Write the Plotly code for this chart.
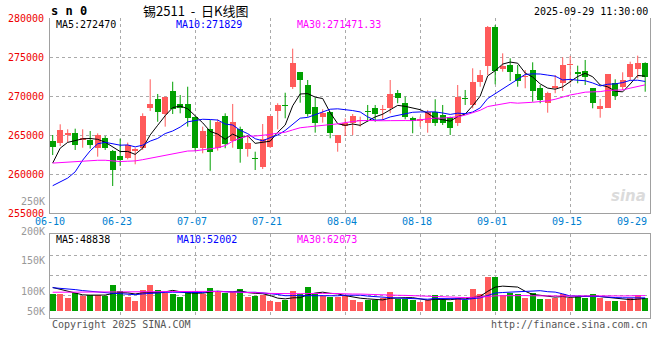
import pandas as pd
import plotly.graph_objects as go

# ---------------- data ----------------
dates = [d.strftime("%m-%d") for d in pd.bdate_range("2025-06-10", "2025-09-29")]
tick_labels = ["06-10", "06-23", "07-07", "07-21", "08-04", "08-18", "09-01", "09-15", "09-29"]

opens = [264190, 264020, 265040, 265300, 264360, 264360, 263330, 264570, 262950, 262350,
         262050, 262900, 263330, 268420, 269620, 267730, 270640, 268980, 268980, 267310,
         263370, 265770, 263300, 267440, 264270, 265810, 263170, 262090, 260940, 263500,
         268120, 268760, 271190, 273080, 271410, 268550, 267350, 267990, 263940, 266150,
         266580, 266800, 268000, 268420, 268200, 268420, 270420, 269070, 267140, 266830,
         266500, 267990, 267570, 267270, 266500, 269710, 268850, 271830, 273890, 278890,
         273420, 273980, 272820, 272400, 273330, 270990, 269070, 270990, 271630, 273950,
         273120, 273210, 270990, 268300, 268500, 271710, 271190, 272480, 273420, 274190]
highs = [265000, 266370, 265730, 265810, 265730, 265510, 265210, 264870, 263080, 264530,
         264020, 263370, 267780, 272140, 270260, 269910, 271830, 270130, 271190, 267400,
         266070, 266920, 267000, 267780, 268980, 266070, 265000, 262860, 266410, 267440,
         269070, 270420, 276070, 273080, 272050, 269780, 268300, 267990, 265000, 267140,
         267690, 267350, 268850, 268850, 268850, 272050, 270770, 269910, 267350, 267350,
         268210, 269580, 268850, 267350, 271410, 270770, 273550, 273330, 278970, 279100,
         275470, 274830, 273980, 273330, 274320, 271410, 270550, 272690, 274960, 275130,
         273890, 274620, 270990, 269620, 272820, 272140, 273040, 274400, 275170, 274320]
lows = [262430, 263590, 264100, 263080, 263370, 263250, 262220, 263080, 258460, 261020,
        261880, 261240, 263080, 268080, 266700, 266070, 267690, 267780, 266070, 262950,
        262660, 260420, 263000, 263300, 263370, 261450, 262220, 260510, 260640, 263330,
        265730, 267140, 270900, 269140, 267350, 265300, 266580, 264580, 262860, 264870,
        265000, 266070, 266700, 266700, 266920, 267780, 269070, 267010, 265220, 266070,
        265300, 266150, 266280, 265000, 266150, 268850, 268420, 271190, 272690, 271500,
        273120, 271920, 271190, 270990, 269270, 269070, 267860, 270350, 270640, 271630,
        271630, 271410, 268420, 267220, 268500, 269490, 270770, 272050, 272270, 270550]
closes = [263460, 265600, 265210, 263720, 264570, 263670, 265040, 263370, 260510, 261790,
          263760, 263160, 267390, 268930, 267990, 269910, 268330, 268420, 267180, 263370,
          265510, 262820, 266700, 263850, 266700, 263170, 264010, 261920, 264490, 267440,
          268850, 268680, 274270, 272050, 267690, 266580, 267780, 265220, 265000, 266580,
          267470, 266920, 267950, 267690, 268300, 270260, 269780, 267350, 266830, 267010,
          267990, 266500, 266500, 265860, 269910, 269660, 271830, 272690, 278810, 273240,
          273890, 273120, 271960, 272500, 270680, 269490, 270420, 271280, 273980, 274020,
          272780, 272480, 269070, 268720, 272820, 270000, 272050, 274100, 274190, 272400]
volumes = [67150, 67150, 52670, 72420, 59250, 61890, 61890, 59250, 102700, 79000,
           55300, 39500, 82950, 102700, 82950, 69790, 68470, 56620, 79000, 79000,
           68470, 90850, 73740, 71100, 75050, 86900, 56620, 59250, 63200, 39500,
           35550, 42130, 79000, 67150, 94800, 71100, 59250, 56620, 56620, 60570,
           43450, 35550, 43450, 43450, 52670, 75050, 46080, 46080, 43450, 35550,
           43450, 63200, 43450, 36870, 52670, 43450, 88220, 68470, 135620, 135620,
           63200, 72420, 65830, 52670, 71100, 48720, 48720, 52670, 65830, 52670,
           59250, 52670, 67150, 52670, 39500, 39500, 39500, 52670, 63200, 52670]
# sessions before 06-10 (not drawn; estimated from where the MA lines start)
prior_closes = [263500, 262800, 263900, 262400, 261800, 262600, 263300, 264100, 263200, 262500,
                261900, 262700, 263400, 262900, 262200, 263100, 263600, 262300, 262600, 262200,
                260300, 260740, 255720, 249570, 251670, 256040, 261500, 262700, 263300]
prior_volumes = [58000, 64000, 61000, 55000, 67000, 62000, 59000, 66000, 60000, 63000,
                 57000, 68000, 61000, 64000, 59000, 62000, 65000, 60000, 69000, 120000,
                 85000, 95000, 88000, 97000, 90000, 102000, 96000, 104000, 96000]

price_ticks = [255000, 260000, 265000, 270000, 275000, 280000]
vol_tick_labels = ["200K", "150K", "100K", "50K"]
ma_periods = [5, 10, 30]
ma_colors = ["#000000", "#0000ff", "#ff00ff"]
price_ma_text = ["MA5:272470", "MA10:271829", "MA30:271471.33"]
vol_ma_text = ["MA5:48838", "MA10:52002", "MA30:62073"]

# ---------------- figure ----------------
RED = "#ff5a5a"
GREEN = "#00a000"
FONT = "DejaVu Sans Mono"
n = len(closes)
x = list(range(n))
up = [c >= o for o, c in zip(opens, closes)]

fig = go.Figure()

for flag, col in ((True, RED), (False, GREEN)):
    wx, wy = [], []
    for i in x:
        if up[i] == flag:
            wx += [i, i, None]
            wy += [lows[i], highs[i], None]
    fig.add_trace(go.Scatter(x=wx, y=wy, mode="lines", line=dict(color=col, width=1),
                             hoverinfo="skip", showlegend=False, xaxis="x", yaxis="y"))
for flag, col in ((True, RED), (False, GREEN)):
    idx = [i for i in x if up[i] == flag]
    fig.add_trace(go.Bar(x=idx,
                         base=[min(opens[i], closes[i]) for i in idx],
                         y=[max(abs(closes[i] - opens[i]), 140) for i in idx],
                         width=0.8, marker=dict(color=col, line=dict(width=0)),
                         showlegend=False, xaxis="x", yaxis="y"))

cser = pd.Series(prior_closes + closes, dtype=float)
for p, col in zip(ma_periods, ma_colors):
    ma = cser.rolling(p).mean().iloc[-n:].tolist()
    fig.add_trace(go.Scatter(x=x, y=ma, mode="lines", line=dict(color=col, width=1),
                             showlegend=False, xaxis="x", yaxis="y"))

fig.add_trace(go.Bar(x=x, y=volumes, width=0.8,
                     marker=dict(color=[RED if u else GREEN for u in up], line=dict(width=0)),
                     showlegend=False, xaxis="x2", yaxis="y2"))
vser = pd.Series(prior_volumes + volumes, dtype=float)
for p, col in zip(ma_periods, ma_colors):
    ma = vser.rolling(p).mean().iloc[-n:].tolist()
    fig.add_trace(go.Scatter(x=x, y=ma, mode="lines", line=dict(color=col, width=1),
                             showlegend=False, xaxis="x2", yaxis="y2"))

# ---------------- layout ----------------
L, R, T, B = 50, 10, 18, 42
W, H = 660, 360
PW, PH = W - L - R, H - T - B


def px(xp):
    return (xp - L) / PW


def py(yp):
    return (H - B - yp) / PH


tick_idx = [dates.index(t) for t in tick_labels]
grid_x = tick_idx[1:-1]
xr = [-0.36, n - 0.36]

grid = dict(gridcolor="#aaaaaa", griddash="dot", gridwidth=1)
border = dict(showline=True, linecolor="#a0a0a0", linewidth=1)

fig.update_layout(
    width=W, height=H, margin=dict(l=L, r=R, t=T, b=B, autoexpand=False),
    paper_bgcolor="white", plot_bgcolor="white", barmode="overlay", bargap=0,
    showlegend=False, hovermode=False,
    xaxis=dict(domain=[0, 1], anchor="y", range=xr, tickvals=grid_x, showticklabels=False,
               ticks="", showgrid=True, zeroline=False, mirror=False, automargin=False,
               **grid, **border),
    yaxis=dict(domain=[py(213), 1], range=[255000, 280000], tickvals=price_ticks,
               ticktext=[str(v) for v in price_ticks], ticks="", ticklabelstandoff=3,
               tickfont=dict(family=FONT, size=10, color="#ee0000"), automargin=False,
               showgrid=True, zeroline=False, mirror=True, **grid, **border),
    xaxis2=dict(domain=[0, 1], anchor="y2", range=xr, tickvals=grid_x, showticklabels=False,
                ticks="", showgrid=True, zeroline=False, mirror=True, automargin=False,
                **grid, **border),
    yaxis2=dict(domain=[0, py(234)], range=[-27650, 304150], automargin=False,
                tickvals=[63200, 142200, 221200], showticklabels=False, ticks="",
                showgrid=True, zeroline=False, mirror=True, **grid, **border),
)

ann = []
mono = dict(family=FONT, size=10)
for k, (t, i) in enumerate(zip(tick_labels, tick_idx)):
    last = k == len(tick_labels) - 1
    ann.append(dict(x=i, xref="x", y=py(221), yref="paper", text=t, showarrow=False,
                    xanchor="right" if last else "center", yanchor="middle",
                    xshift=4 if last else -3, font=dict(mono, color="#0080d0")))
for t, yp in zip(vol_tick_labels, [231, 260, 291, 311]):
    ann.append(dict(x=px(47), y=py(yp), xref="paper", yref="paper", text=t, showarrow=False,
                    xanchor="right", yanchor="middle", font=dict(mono, color="#999999")))
ann.append(dict(x=px(47), y=py(201), xref="paper", yref="paper", text="250K", showarrow=False,
                xanchor="right", yanchor="middle", font=dict(mono, color="#999999")))

ann.append(dict(x=px(49), y=py(11), xref="paper", yref="paper", text="<b>s n 0</b>",
                showarrow=False, xanchor="left", yanchor="middle",
                font=dict(family=FONT, size=12, color="#000000")))
ann.append(dict(x=px(195), y=py(10), xref="paper", yref="paper",
                text="锡2511\u00a0\u00a0-\u00a0\u00a0日K线图",
                showarrow=False, xanchor="center", yanchor="middle",
                font=dict(family="Noto Sans CJK SC", size=13, color="#000000")))
ann.append(dict(x=px(650), y=py(12), xref="paper", yref="paper", text="2025-09-29 11:30:00",
                showarrow=False, xanchor="right", yanchor="middle",
                font=dict(mono, color="#000000")))

for txt, col, xp in zip(price_ma_text, ma_colors, [54, 174, 295]):
    ann.append(dict(x=px(xp), y=py(24), xref="paper", yref="paper", text=txt,
                    showarrow=False, xanchor="left", yanchor="middle",
                    font=dict(mono, color=col)))
for txt, col, xp in zip(vol_ma_text, ma_colors, [54, 175, 295]):
    ann.append(dict(x=px(xp), y=py(239), xref="paper", yref="paper", text=txt,
                    showarrow=False, xanchor="left", yanchor="middle",
                    font=dict(mono, color=col)))

ann.append(dict(x=px(50), y=py(324), xref="paper", yref="paper", text="Copyright 2025 SINA.COM",
                showarrow=False, xanchor="left", yanchor="middle",
                font=dict(mono, color="#555555")))
ann.append(dict(x=px(650), y=py(324), xref="paper", yref="paper", text="http://finance.sina.com.cn",
                showarrow=False, xanchor="right", yanchor="middle",
                font=dict(mono, color="#555555")))
ann.append(dict(x=px(648), y=py(196), xref="paper", yref="paper", text="<i><b>sina</b></i>",
                showarrow=False, xanchor="right", yanchor="middle", opacity=0.35,
                font=dict(family="DejaVu Sans", size=15, color="#999999")))

fig.update_layout(annotations=ann)
fig.write_html("out.html", config={"displayModeBar": False, "staticPlot": True},
               post_script="document.body.style.margin='0';document.body.style.overflow='hidden';")
